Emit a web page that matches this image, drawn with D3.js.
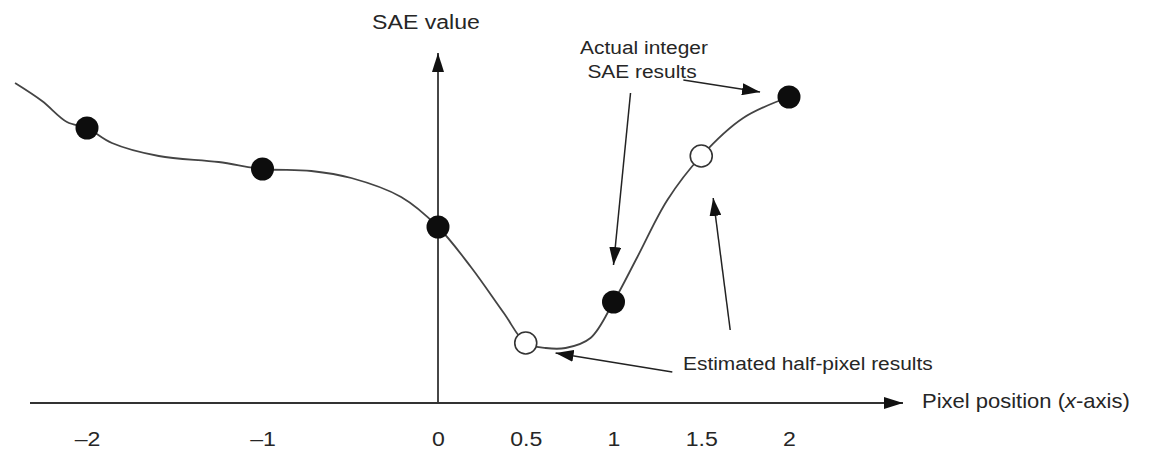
<!DOCTYPE html>
<html>
<head>
<meta charset="utf-8">
<script src="https://cdn.jsdelivr.net/npm/d3@7"></script>
<style>
  html, body { margin: 0; padding: 0; background: #fff; }
  svg { display: block; font-family: "Liberation Sans", Arial, sans-serif; }
</style>
</head>
<body>
<svg id="chart" width="1150" height="452"></svg>
<script>
// ---- data ----
const tickValues = [-2, -1, 0, 0.5, 1, 1.5, 2];
const tickLabels = ["\u20132", "\u20131", "0", "0.5", "1", "1.5", "2"];

const integerX   = [-2, -1, 0, 1, 2];
const integerSAE = [27.5, 23.4, 17.6, 10.1, 30.6];

const halfX   = [0.5, 1.5];
const halfSAE = [6.0, 24.7];

// sampled path of the hand-drawn SAE curve
const curveX   = [-2.41, -2.256, -2.114, -2, -1.858, -1.591, -1.25, -1, -0.722, -0.494, -0.21, 0, 0.1875, 0.375, 0.5, 0.614, 0.727, 0.869, 1, 1.136, 1.307, 1.5, 1.739, 2];
const curveSAE = [32.0, 30.2, 28.1, 27.5, 26.0, 24.7, 24.1, 23.4, 23.2, 22.5, 20.6, 17.6, 13.6, 9.0, 6.0, 5.5, 5.5, 6.5, 10.1, 14.6, 20.3, 24.7, 28.5, 30.6];

const axisTitleY = "SAE value";
const axisTitleX = ["Pixel position (", "x", "-axis)"];
const noteActual = ["Actual integer", "SAE results"];
const noteHalf = "Estimated half-pixel results";

// annotation arrows: [x0, y0, x1, y1] in data units
const arrowsActual = [[1.097, 31.0, 1.0, 13.8], [1.398, 32.3, 1.835, 31.1]];
const arrowsHalf   = [[1.665, 7.3, 1.568, 20.5], [1.335, 3.1, 0.67, 5.0]];

// ---- scales ----
const x = d3.scaleLinear().domain([-2, 2]).range([87, 789]);
const y = d3.scaleLinear().domain([0, 35]).range([403, 53]);

const svg = d3.select("#chart");
const ink = "#262626";
const SX = 1.1; // source picture is slightly stretched horizontally

const defs = svg.append("defs");
function marker(id, len, wid) {
  defs.append("marker")
    .attr("id", id)
    .attr("markerUnits", "userSpaceOnUse")
    .attr("viewBox", `0 0 ${len} ${wid}`)
    .attr("refX", len).attr("refY", wid / 2)
    .attr("markerWidth", len).attr("markerHeight", wid)
    .attr("orient", "auto")
    .append("path")
    .attr("d", `M0,0 L${len},${wid / 2} L0,${wid} Z`)
    .attr("fill", "#111");
}
marker("axisHead", 19, 12);
marker("noteHead", 18, 12);

// ---- axes lines with arrowheads ----
const xLeft = x.invert(30), xRight = x.invert(903);
svg.append("line")
  .attr("x1", x(xLeft)).attr("x2", x(xRight))
  .attr("y1", y(0)).attr("y2", y(0))
  .attr("stroke", "#333").attr("stroke-width", 2.2)
  .attr("marker-end", "url(#axisHead)");

svg.append("line")
  .attr("x1", x(0)).attr("x2", x(0))
  .attr("y1", y(0)).attr("y2", y(35))
  .attr("stroke", "#333").attr("stroke-width", 1.8)
  .attr("marker-end", "url(#axisHead)");

// tick labels via d3 axis (no tick marks, no domain)
const xAxis = d3.axisBottom(x)
  .tickValues(tickValues)
  .tickFormat((d, i) => tickLabels[i])
  .tickSize(0)
  .tickPadding(28);
const gx = svg.append("g").attr("transform", `translate(0,${y(0)})`).call(xAxis);
gx.select(".domain").remove();
gx.selectAll("text")
  .attr("font-size", 21)
  .attr("font-family", "Liberation Sans, Arial, sans-serif")
  .attr("fill", ink)
  .attr("x", 0)
  .attr("transform", `scale(${SX},1)`);

// ---- curve ----
const curvePts = curveX.map((d, i) => [d, curveSAE[i]]);
const line = d3.line()
  .x(d => x(d[0])).y(d => y(d[1]))
  .curve(d3.curveCatmullRom.alpha(0.5));
svg.append("path")
  .datum(curvePts)
  .attr("d", line)
  .attr("fill", "none")
  .attr("stroke", "#444")
  .attr("stroke-width", 1.8);

// ---- points ----
svg.selectAll("circle.int")
  .data(integerX.map((d, i) => [d, integerSAE[i]]))
  .join("circle").attr("class", "int")
  .attr("cx", d => x(d[0])).attr("cy", d => y(d[1]))
  .attr("r", 11.5).attr("fill", "#0d0d0d");

svg.selectAll("circle.half")
  .data(halfX.map((d, i) => [d, halfSAE[i]]))
  .join("circle").attr("class", "half")
  .attr("cx", d => x(d[0])).attr("cy", d => y(d[1]))
  .attr("r", 11).attr("fill", "#fff")
  .attr("stroke", "#333").attr("stroke-width", 1.6);

// ---- annotation arrows ----
svg.selectAll("line.note")
  .data(arrowsActual.concat(arrowsHalf))
  .join("line").attr("class", "note")
  .attr("x1", d => x(d[0])).attr("y1", d => y(d[1]))
  .attr("x2", d => x(d[2])).attr("y2", d => y(d[3]))
  .attr("stroke", "#222").attr("stroke-width", 1.5)
  .attr("marker-end", "url(#noteHead)");

// ---- texts ----
function label(px, py, anchor, size) {
  return svg.append("text")
    .attr("transform", `translate(${px},${py}) scale(${SX},1)`)
    .attr("text-anchor", anchor)
    .attr("font-size", size)
    .attr("fill", ink);
}
label(x(0) - 12, 29, "middle", 21).text(axisTitleY);
label(644, 54, "middle", 19).text(noteActual[0]);
label(642, 78, "middle", 19).text(noteActual[1]);
label(683, 370, "start", 19).text(noteHalf);

const tx = label(922, 408, "start", 20);
tx.append("tspan").text(axisTitleX[0]);
tx.append("tspan").attr("font-style", "italic").text(axisTitleX[1]);
tx.append("tspan").text(axisTitleX[2]);
</script>
</body>
</html>
